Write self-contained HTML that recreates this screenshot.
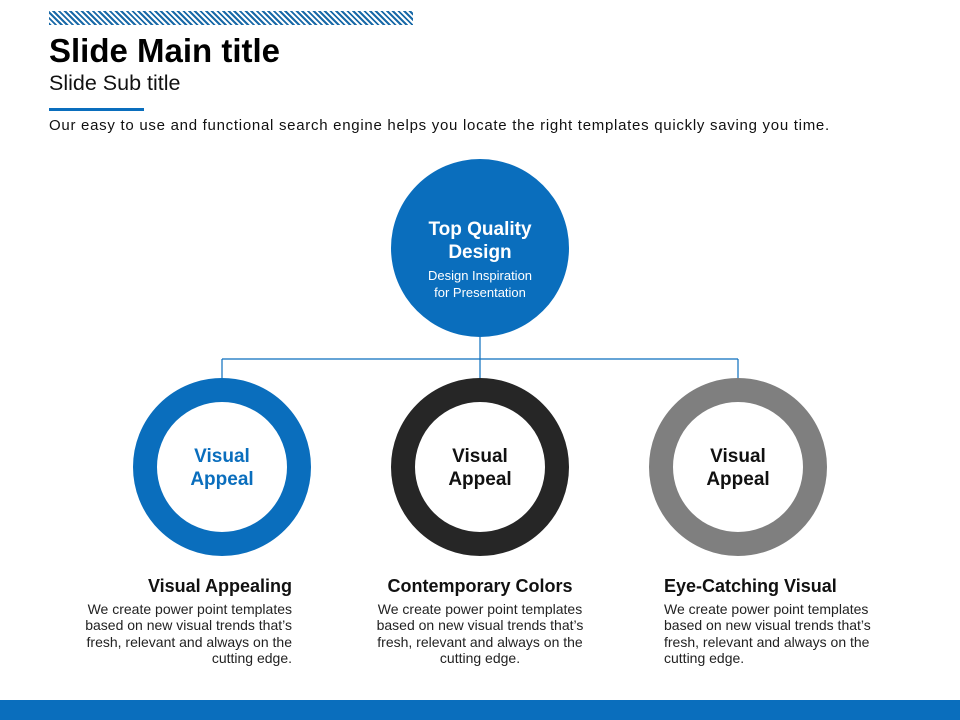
<!DOCTYPE html>
<html><head><meta charset="utf-8"><style>
body{margin:0;width:960px;height:720px;position:relative;background:#fff;font-family:"Liberation Sans",sans-serif;overflow:hidden;color:#111}
.a{position:absolute;white-space:nowrap}
.hatch{position:absolute;left:49px;top:11px;width:364px;height:14px;background:repeating-linear-gradient(45deg,#1a6aa8 0 2px,#fff 2px 4px)}
.t{font-size:14px;line-height:16.3px;color:#222}
h3{margin:0;font-size:18px;font-weight:bold;color:#111}
</style></head><body>
<div class="hatch"></div>
<div class="a" style="left:49px;top:32px;font-size:33px;font-weight:bold;color:#000">Slide Main title</div>
<div class="a" style="left:49px;top:71px;font-size:21.5px;color:#111">Slide Sub title</div>
<div class="a" style="left:49px;top:108px;width:95px;height:3px;background:#0a6ebd"></div>
<div class="a" style="left:49px;top:117px;font-size:15px;letter-spacing:0.72px;color:#111">Our easy to use and functional search engine helps you locate the right templates quickly saving you time.</div>
<svg class="a" style="left:0;top:0" width="960" height="720">
<circle cx="480" cy="248" r="89" fill="#0a6ebd"/>
<path d="M480 337V380M222 359H738M222 359V380M738 359V380" stroke="#0a6ebd" stroke-width="1.2" fill="none"/>
<circle cx="222" cy="467" r="77" fill="none" stroke="#0a6ebd" stroke-width="24"/>
<circle cx="480" cy="467" r="77" fill="none" stroke="#262626" stroke-width="24"/>
<circle cx="738" cy="467" r="77" fill="none" stroke="#7f7f7f" stroke-width="24"/>
<rect x="0" y="700" width="960" height="20" fill="#0a6ebd"/>
</svg>
<div class="a" style="left:380px;top:218px;width:200px;text-align:center;color:#fff;font-weight:bold;font-size:19px;line-height:23px">Top Quality<br>Design</div>
<div class="a" style="left:380px;top:268px;width:200px;text-align:center;color:#fff;font-size:13px;line-height:16.5px">Design Inspiration<br>for Presentation</div>
<div class="a" style="left:122px;top:445px;width:200px;text-align:center;color:#0a6ebd;font-weight:bold;font-size:19px;line-height:23px">Visual<br>Appeal</div>
<div class="a" style="left:380px;top:445px;width:200px;text-align:center;color:#111;font-weight:bold;font-size:19px;line-height:23px">Visual<br>Appeal</div>
<div class="a" style="left:638px;top:445px;width:200px;text-align:center;color:#111;font-weight:bold;font-size:19px;line-height:23px">Visual<br>Appeal</div>
<div class="a" style="left:72px;top:576px;width:220px;text-align:right"><h3>Visual Appealing</h3><div class="t" style="margin-top:4px">We create power point templates<br>based on new visual trends that’s<br>fresh, relevant and always on the<br>cutting edge.</div></div>
<div class="a" style="left:360px;top:576px;width:240px;text-align:center"><h3>Contemporary Colors</h3><div class="t" style="margin-top:4px">We create power point templates<br>based on new visual trends that’s<br>fresh, relevant and always on the<br>cutting edge.</div></div>
<div class="a" style="left:664px;top:576px;width:240px;text-align:left"><h3>Eye-Catching Visual</h3><div class="t" style="margin-top:4px">We create power point templates<br>based on new visual trends that’s<br>fresh, relevant and always on the<br>cutting edge.</div></div>
</body></html>
